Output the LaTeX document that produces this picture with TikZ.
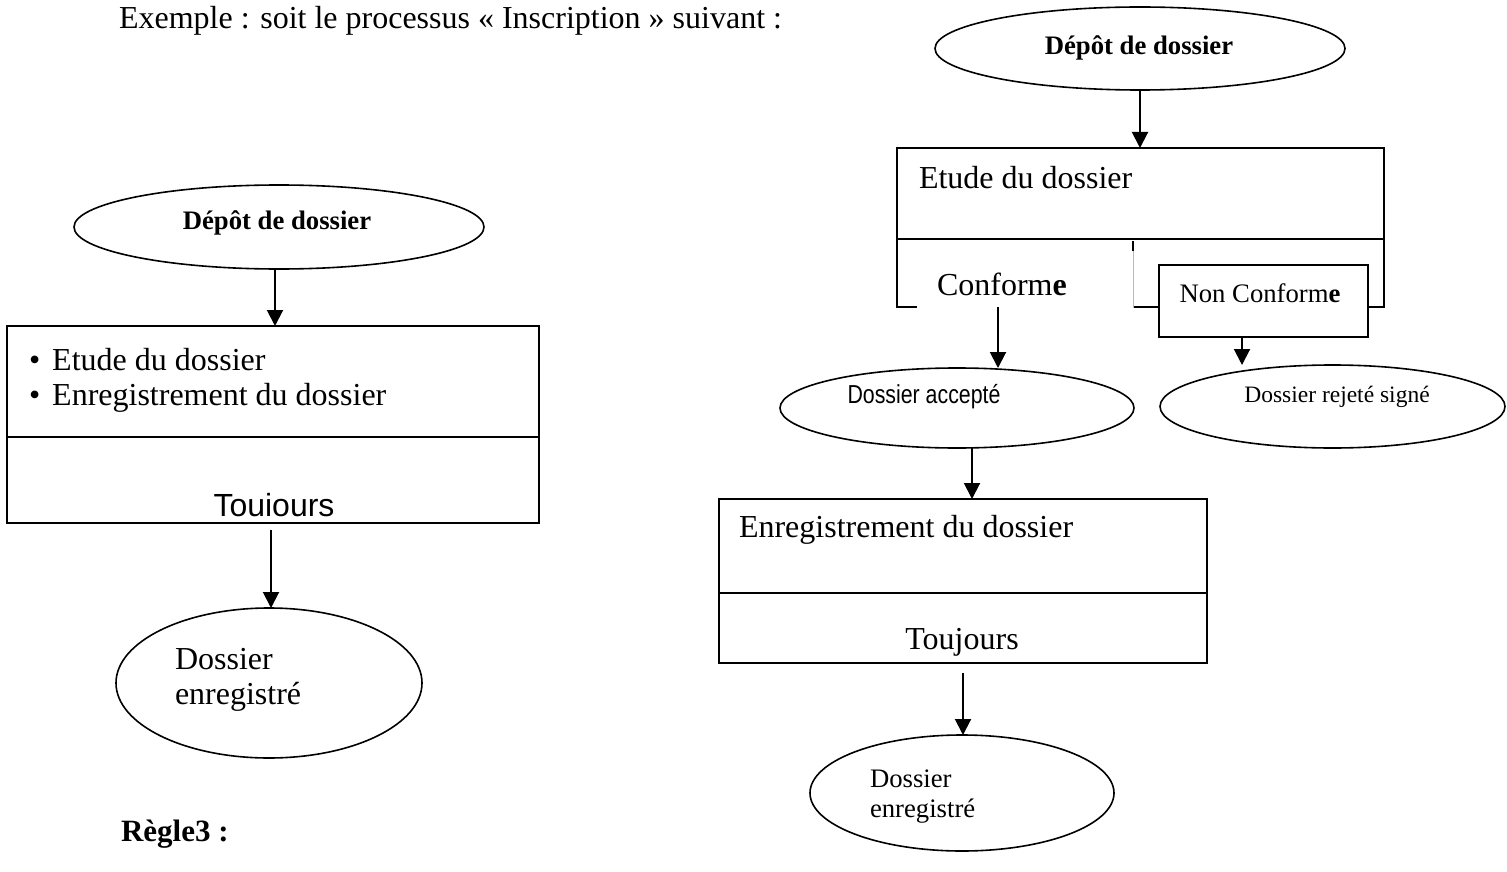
\documentclass[tikz,border=0pt]{standalone}
\usepackage{fontspec}
\setmainfont{Liberation Serif}
\newfontfamily\arialfont{Liberation Sans}
\newfontfamily\narrowfont[FakeStretch=0.82]{Liberation Sans}
\usetikzlibrary{shapes.geometric,arrows.meta}

\begin{document}
\begin{tikzpicture}[x=1pt,y=-1pt,
  every node/.style={inner sep=0pt, outer sep=0pt},
  bigtxt/.style={font=\fontsize{32}{35}\selectfont},
  midtxt/.style={font=\fontsize{26.7}{30}\selectfont},
  boldtxt/.style={font=\fontsize{26.7}{30}\selectfont\bfseries},
  oval/.style={draw, ellipse, line width=1.6pt},
  panel/.style={draw, rectangle, line width=1.8pt},
  rule/.style={line width=1.8pt},
  arr/.style={line width=2pt, -{Triangle[width=16pt,length=16pt]}},
]
\useasboundingbox[fill=white] (0,0) rectangle (1507,872);

% heading and closing rule label
\node[bigtxt, anchor=base west] (intro) at (119,29)
  {Exemple~: soit le processus «~Inscription~» suivant~:};
\node[font=\fontsize{31}{34}\selectfont\bfseries, anchor=west] (regle) at (121,834) {Règle3~:};

% ---------- single-step process (left) ----------
\node[oval, minimum width=410, minimum height=84] (depL) at (279,227) {};
\node[boldtxt] (depLtxt) at (277,223) {Dépôt de dossier};

\node[panel, minimum width=532, minimum height=197] (lbox) at (273,424.5) {};
\draw[rule] (7,437) -- (539,437);
\node[bigtxt, anchor=west] (l1) at (29,360) {\textbullet\hspace{12pt}Etude du dossier};
\node[bigtxt, anchor=west] (l2) at (29,398) {\textbullet\hspace{12pt}Enregistrement du dossier};
\node[font=\arialfont\fontsize{32}{35}\selectfont] (ltouj) at (274,505) {Touiours};

\node[oval, minimum width=306, minimum height=150] (lend) at (269,683) {};
\node[bigtxt, align=left, anchor=west] (lendtxt) at (175,680) {Dossier\\enregistré};

\draw[arr] ([xshift=-4pt]depL.south) -- ([xshift=-4pt]depL.south |- lbox.north);
\coordinate (lout) at ([xshift=-2pt,yshift=-7pt]lbox.south);
\draw[arr] (lout) -- (lout |- lend.north);

% ---------- two-step process (right) ----------
\node[oval, minimum width=410, minimum height=83] (depR) at (1140,48.5) {};
\node[boldtxt] (depRtxt) at (1139,48) {Dépôt de dossier};

\node[panel, minimum width=487, minimum height=159] (etude) at (1140.5,227.5) {};
\draw[rule] (897,239) -- (1384,239);
\node[bigtxt, anchor=west] (etudetxt) at (919,178) {Etude du dossier};

% text frame of the "Conforme" outcome
\fill[white] (917,241) rectangle (1133,311);
\draw[gray!55, line width=0.7pt] (1133,250) -- (1133,308);
\draw[line width=1.5pt] (1133,241) -- (1133,251);
\node[bigtxt, anchor=west] (conf) at (937,284) {Conform\textbf{e}};

\node[panel, fill=white, minimum width=209, minimum height=72] (nc) at (1263.5,301) {};
\node[midtxt] (nctxt) at (1260,293) {Non Conform\textbf{e}};

\node[oval, minimum width=354, minimum height=80] (acc) at (957,408) {};
\node[font=\narrowfont\fontsize{26}{30}\selectfont] (acctxt) at (924,397) {Dossier accepté};

\node[oval, minimum width=345, minimum height=83] (rej) at (1332.5,406.5) {};
\node[font=\fontsize{23.5}{28}\selectfont] (rejtxt) at (1337,397) {Dossier rejeté signé};

\node[panel, minimum width=488, minimum height=164] (enr) at (963,581) {};
\draw[rule] (719,593) -- (1207,593);
\node[bigtxt, anchor=west] (enrtxt) at (739,530) {Enregistrement du dossier};
\node[bigtxt] (rtouj) at (962,642) {Toujours};

\node[oval, minimum width=304, minimum height=116] (rend) at (962,793) {};
\node[midtxt, align=left, anchor=west] (rendtxt) at (870,797) {Dossier\\enregistré};

% connectors
\draw[arr] (depR.south) -- (depR.south |- etude.north);
\coordinate (cstart) at ([xshift=41pt]acc.north |- etude.south);
\draw[arr] (cstart) -- (cstart |- acc.north);
\draw[arr] ([xshift=-21.5pt]nc.south) -- ([xshift=-21.5pt]nc.south |- rej.north);
\draw[arr] ([xshift=15pt]acc.south) -- ([xshift=15pt]acc.south |- enr.north);
\coordinate (rout) at ([yshift=-10pt]enr.south);
\draw[arr] (rout) -- (rout |- rend.north);

\end{tikzpicture}
\end{document}
